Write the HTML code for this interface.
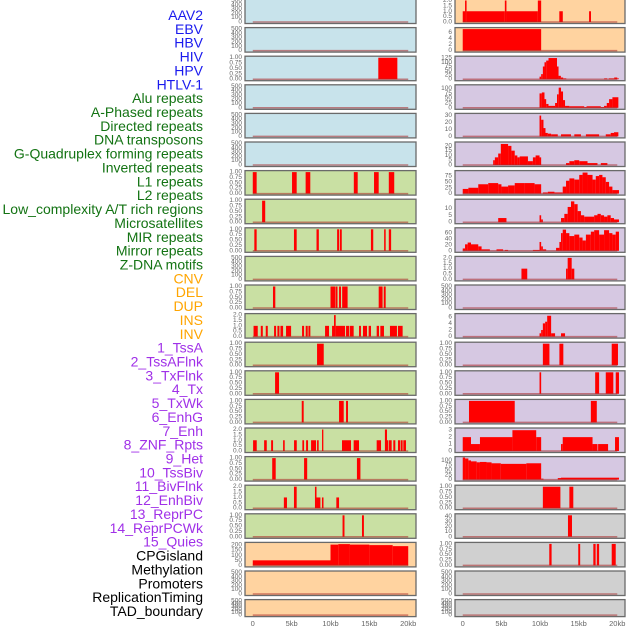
<!DOCTYPE html>
<html><head><meta charset="utf-8"><style>
html,body{margin:0;padding:0;background:#fff;}
svg{display:block;font-family:"Liberation Sans",sans-serif;}
</style></head><body>
<svg id="chart" width="630" height="630" viewBox="0 0 630 630"></svg>
<script>
const trackNames = ["AAV2","EBV","HBV","HIV","HPV","HTLV-1","Alu repeats","A-Phased repeats","Directed repeats","DNA transposons","G-Quadruplex forming repeats","Inverted repeats","L1 repeats","L2 repeats","Low_complexity A/T rich regions","Microsatellites","MIR repeats","Mirror repeats","Z-DNA motifs","CNV","DEL","DUP","INS","INV","1_TssA","2_TssAFlnk","3_TxFlnk","4_Tx","5_TxWk","6_EnhG","7_Enh","8_ZNF_Rpts","9_Het","10_TssBiv","11_BivFlnk","12_EnhBiv","13_ReprPC","14_ReprPCWk","15_Quies","CPGisland","Methylation","Promoters","ReplicationTiming","TAD_boundary"];
const labelColors = ["#1a1aee","#1a1aee","#1a1aee","#1a1aee","#1a1aee","#1a1aee","#137313","#137313","#137313","#137313","#137313","#137313","#137313","#137313","#137313","#137313","#137313","#137313","#137313","#ffa500","#ffa500","#ffa500","#ffa500","#ffa500","#a030e8","#a030e8","#a030e8","#a030e8","#a030e8","#a030e8","#a030e8","#a030e8","#a030e8","#a030e8","#a030e8","#a030e8","#a030e8","#a030e8","#a030e8","#000","#000","#000","#000","#000"];
const xTickValues = [0,5,10,15,20];
const xTickLabels = ["0","5kb","10kb","15kb","20kb"];
const ticks500 = [0,100,200,300,400,500];
const ticks1 = [0,0.25,0.5,0.75,1];
const ticks1Labels = ["0.00","0.25","0.50","0.75","1.00"];
const ticks2 = [0,0.5,1,1.5,2];
const ticks2Labels = ["0.0","0.5","1.0","1.5","2.0"];
// left column panels (rows 0-21)
const leftBars = [
 [],[],[[16.15,18.6,1]],[],[],[],
 [[0,0.5,1],[5.05,5.65,1],[6.8,7.4,1],[13.0,13.5,1],[15.6,16.2,1],[17.5,18.2,1]],
 [[1.2,1.6,1]],
 [[0.2,0.5,1],[5.3,5.65,1],[8.2,8.5,1],[10.85,11.1,1],[11.2,11.45,1],[15.2,15.5,1],[16.9,17.1,1],[17.5,17.8,1]],
 [],
 [[2.6,2.9,1],[10.0,10.6,1],[10.65,10.9,1],[11.1,11.35,1],[11.5,12.2,1],[16.2,16.7,1],[16.85,17.1,1]],
 [[0.1,0.64,1],[1.03,1.29,1],[1.67,1.93,1],[2.74,3.0,1],[3.17,3.43,1],[3.56,3.9,1],[4.28,4.93,1],[6.34,6.6,1],[6.81,7.07,1],[7.16,7.41,1],[9.3,9.81,1],[10.2,10.45,1],[10.45,10.67,2],[10.67,11.87,1],[12.0,12.42,1],[12.51,12.98,1],[13.67,13.92,1],[14.18,14.7,1],[14.91,15.21,1],[15.94,16.24,1],[16.41,16.88,1],[17.65,18.55,1],[18.68,19.28,1]],
 [[8.27,9.13,1]],
 [[2.87,3.38,1]],
 [[6.3,6.55,1],[11.1,11.7,1],[12.0,12.25,1]],
 [[0.04,0.51,1],[1.46,1.8,1],[2.36,2.61,1],[3.9,4.11,1],[5.31,5.66,1],[6.38,6.6,1],[6.86,7.11,1],[7.5,8.14,1],[8.27,8.48,1],[8.91,9.08,2],[11.48,12.64,1],[12.98,13.67,1],[15.94,16.5,1],[17.0,17.27,2],[17.27,17.44,1],[17.52,17.87,1],[18.08,18.34,1],[18.68,18.94,1],[19.02,19.28,1],[19.37,19.71,1]],
 [[2.5,2.95,1],[6.6,7.0,1],[13.4,13.85,1]],
 [[4.0,4.4,1],[5.3,5.65,2],[8.0,8.2,2],[8.2,8.7,1],[8.9,9.1,1],[10.75,11.1,1]],
 [[11.55,11.8,1],[14.05,14.3,1]],
 [[0,10,50],[10,11,205],[11,12.5,210],[12.5,15,205],[15,18,200],[18,20,190]],
 [],[]
];
const leftTickSet = ["500","500","1","500","500","500","1","1","1","500","1","2","1","1","1","2","1","2","1","cnv","500","500"];
const leftBg = ["#c8e3eb","#c8e3eb","#c8e3eb","#c8e3eb","#c8e3eb","#c8e3eb","#c9e0a3","#c9e0a3","#c9e0a3","#c9e0a3","#c9e0a3","#c9e0a3","#c9e0a3","#c9e0a3","#c9e0a3","#c9e0a3","#c9e0a3","#c9e0a3","#c9e0a3","#ffd3a0","#ffd3a0","#ffd3a0"];
// right column panels (rows 0-21)
const rightBars = [
 [[0,0.3,1],[0.3,0.5,2],[0.5,5.45,1],[5.45,5.66,2],[5.66,9.72,1],[9.72,10.15,2],[12.5,12.95,1],[16.35,16.6,1]],
 [[0,10.15,7.1]],
 [[9.94,10.15,15],[10.15,10.37,30],[10.37,10.58,75],[10.58,10.8,100],[10.8,11.1,110],[11.1,12.2,125],[12.2,12.4,75],[12.4,12.7,20],[12.7,13.0,10],[13.0,13.4,5],[18.3,18.7,5],[18.9,19.6,5],[19.6,20.0,10],[20.0,20.2,5]],
 [[9.94,10.24,75],[10.24,10.58,80],[10.58,10.8,45],[10.8,11.1,20],[11.1,11.95,10],[11.95,12.2,25],[12.2,12.42,70],[12.42,12.72,105],[12.72,12.98,85],[12.98,13.24,40],[13.24,13.8,10],[13.8,15.72,8],[15.72,16.02,4],[16.02,17.87,8],[17.87,18.29,4],[18.29,18.64,10],[18.64,18.94,25],[18.94,19.37,45],[19.37,20.14,55]],
 [[9.94,10.15,30],[10.15,10.45,24],[10.45,10.71,12],[10.71,11.01,5],[11.01,11.44,4],[11.44,12.3,3],[12.72,14.01,3],[14.44,15.3,3],[15.94,17.65,3],[18.51,19.15,3],[19.15,19.58,5],[19.58,20.14,6]],
 [[3.94,4.16,5],[4.16,4.59,8],[4.59,4.93,12],[4.93,5.87,22],[5.87,6.3,20],[6.3,6.73,15],[6.73,7.07,10],[7.07,7.37,8],[7.37,8.44,9],[8.44,9.08,4],[9.08,9.43,8],[9.43,9.94,10],[9.94,10.15,8],[13.37,13.8,2],[13.8,14.44,4],[14.44,15.08,5],[15.08,16.15,4],[16.15,17.44,2],[17.87,18.72,2]],
 [[0,0.73,20],[0.73,2.01,25],[2.01,3.3,40],[3.3,4.59,45],[4.59,5.01,40],[5.01,5.87,30],[5.87,6.73,35],[6.73,8.01,45],[8.01,9.3,45],[9.3,10.15,40],[10.37,11.01,5],[11.01,11.87,8],[11.87,12.94,5],[12.94,13.37,30],[13.37,13.8,55],[13.8,14.44,65],[14.44,15.08,60],[15.08,15.51,80],[15.51,16.15,90],[16.15,16.8,80],[16.8,17.22,60],[17.22,17.65,75],[17.65,18.08,80],[18.08,18.51,70],[18.51,18.94,50],[18.94,19.37,30],[19.37,20.22,15]],
 [[4.59,5.66,3],[9.94,10.15,5],[10.15,10.37,2],[12.72,13.15,3],[13.15,13.58,6],[13.58,14.01,11],[14.01,14.44,15],[14.44,14.87,13],[14.87,15.3,8],[15.3,15.72,5],[15.72,17.01,4],[17.01,17.44,5],[17.44,17.87,6],[17.87,18.29,5],[18.29,18.72,4],[18.72,19.15,5],[19.15,19.58,3],[19.58,20.22,2]],
 [[0,0.3,8],[0.3,0.64,22],[0.64,1.07,28],[1.07,2.01,22],[2.01,2.44,15],[2.44,3.51,5],[4.37,5.23,5],[5.44,5.87,3],[9.08,9.94,3],[9.94,10.15,30],[10.15,10.37,15],[10.37,10.8,5],[12.08,12.51,10],[12.51,12.72,30],[12.72,12.94,60],[12.94,13.37,72],[13.37,13.8,60],[13.8,14.44,50],[14.44,15.08,55],[15.08,15.51,45],[15.51,15.94,35],[15.94,16.58,55],[16.58,17.01,65],[17.01,17.65,70],[17.65,18.29,55],[18.29,18.94,70],[18.94,19.37,60],[19.37,19.8,55],[19.8,20.22,65]],
 [[7.6,8.35,1],[13.37,13.58,1],[13.58,14.1,2],[14.1,14.44,1]],
 [],
 [[9.94,10.15,1],[10.15,10.37,2],[10.37,10.67,4],[10.67,10.93,4.5],[10.93,11.44,6.3],[11.44,11.95,1],[12.72,13.24,1]],
 [[10.37,11.22,1],[12.51,13.02,1],[19.28,20.09,1]],
 [[9.94,10.15,1],[17.14,17.65,1],[18.51,19.49,1],[19.8,20.22,1]],
 [[0.81,6.73,1],[16.58,17.35,1]],
 [[0,1.07,2],[1.07,2.23,1],[2.23,6.43,2],[6.43,9.51,3],[9.51,10.15,2],[12.72,12.94,1],[12.94,16.8,2],[16.8,17.44,1],[17.52,18.81,1],[19.71,20.22,2]],
 [[0,0.3,115],[0.3,0.73,110],[0.73,1.07,100],[1.07,1.8,95],[1.8,2.23,90],[2.23,3.08,92],[3.08,3.73,90],[3.73,4.93,85],[4.93,8.23,82],[8.23,10.15,85],[10.15,10.45,5],[12.3,12.72,8],[12.72,20.22,10]],
 [[10.37,12.64,1],[13.8,14.31,1]],
 [[13.62,14.14,42]],
 [[11.2,11.5,1],[14.95,15.2,1],[16.9,17.2,1],[17.35,17.65,1],[19.28,19.8,1]],
 [],[]
];
const rightTickSet = ["2","inv","125","100","30","20","75","10","60","2","500","6","1","1","1","3","100","1","40","1","500","500"];
const rightBg = ["#ffd3a0","#ffd3a0","#d6c8e2","#d6c8e2","#d6c8e2","#d6c8e2","#d6c8e2","#d6c8e2","#d6c8e2","#d6c8e2","#d6c8e2","#d6c8e2","#d6c8e2","#d6c8e2","#d6c8e2","#d6c8e2","#d6c8e2","#d0d0d0","#d0d0d0","#d0d0d0","#d0d0d0","#d0d0d0"];
// custom y tick sets: [tick values], [labels], ymax
const customTicks = {
 "500":[ticks500, ["0","100","200","300","400","500"], 500],
 "1":[ticks1, ticks1Labels, 1],
 "2":[ticks2, ticks2Labels, 2],
 "cnv":[[0,50,100,150,200],["0","50","100","150","200"],212],
 "inv":[[0,2,4,6],["0","2","4","6"],7.1],
 "125":[[0,25,50,75,100,125],["0","25","50","75","100","125"],127],
 "100":[[0,25,50,75,100],["0","25","50","75","100"],112],
 "30":[[0,10,20,30],["0","10","20","30"],31],
 "20":[[0,5,10,15,20],["0","5","10","15","20"],22.5],
 "75":[[0,25,50,75],["0","25","50","75"],92],
 "10":[[0,5,10],["0","5","10"],15.5],
 "60":[[0,20,40,60],["0","20","40","60"],73],
 "6":[[0,2,4,6],["0","2","4","6"],6.5],
 "3":[[0,1,2,3],["0","1","2","3"],3.1],
 "40":[[0,10,20,30,40],["0","10","20","30","40"],42]
};

const NS="http://www.w3.org/2000/svg";
const svg=document.getElementById("chart");
function mk(tag,attrs,parent){const e=document.createElementNS(NS,tag);for(const k in attrs)e.setAttribute(k,attrs[k]);(parent||svg).appendChild(e);return e;}

// labels
trackNames.forEach((n,i)=>{
 const t=mk("text",{x:203,y:15+i*13.86,"text-anchor":"end","dominant-baseline":"central","font-size":"14",fill:labelColors[i]});
 t.textContent=n;
 
 
});

function rowTop(r){return r*28.6-1;}
function rowH(r){return r===21?17:24.5;}

function drawPanel(col,r,bars,tickKey,bg){
 const x0=col===0?245:455, w=col===0?171:170;
 const top=rowTop(r), h=rowH(r), bottom=top+h;
 const xs=kb=>x0+(kb+1)/22*w;
 const [tv,tl,ymax]=customTicks[tickKey];
 const ys=v=>bottom-1.5-v/ymax*(h-3);
 const g=mk("g",{});
 
 
 const bgR=mk("rect",{x:x0,y:top,width:w,height:h,fill:bg},g);
 
 
 bars.forEach(b=>{
  const y1=ys(b[2]), y0=ys(0);
  const rc=mk("rect",{x:xs(b[0]),y:Math.max(top,y1),width:Math.max(0.8,xs(b[1])-xs(b[0])),height:y0-Math.max(top,y1),fill:"#ff0000"},g);
  
  
 });
 const bl=mk("line",{x1:xs(0),x2:xs(20),y1:ys(0),y2:ys(0),stroke:"rgba(170,40,40,0.55)","stroke-width":1.5},g);
 
 
 const fr=mk("rect",{x:x0,y:top,width:w,height:h,fill:"none",stroke:"#6a6a6a","stroke-width":1.3},g);
 
 
 tv.forEach((v,i)=>{
  const t=mk("text",{x:x0-3,y:ys(v),"text-anchor":"end","dominant-baseline":"central","font-size":"6.5",fill:"#666"},g);
  t.textContent=tl[i];
  
  
 });
}
leftBars.forEach((b,r)=>drawPanel(0,r,b,leftTickSet[r],leftBg[r]));
rightBars.forEach((b,r)=>drawPanel(1,r,b,rightTickSet[r],rightBg[r]));

// x axes
[0,1].forEach(col=>{
 const x0=col===0?245:455, w=col===0?171:170;
 xTickValues.forEach((v,i)=>{
  const t=mk("text",{x:x0+(v+1)/22*w,y:626,"text-anchor":"middle","font-size":"7.5",fill:"#666"});
  t.textContent=xTickLabels[i];
  
  
 });
});
</script>
</body></html>
